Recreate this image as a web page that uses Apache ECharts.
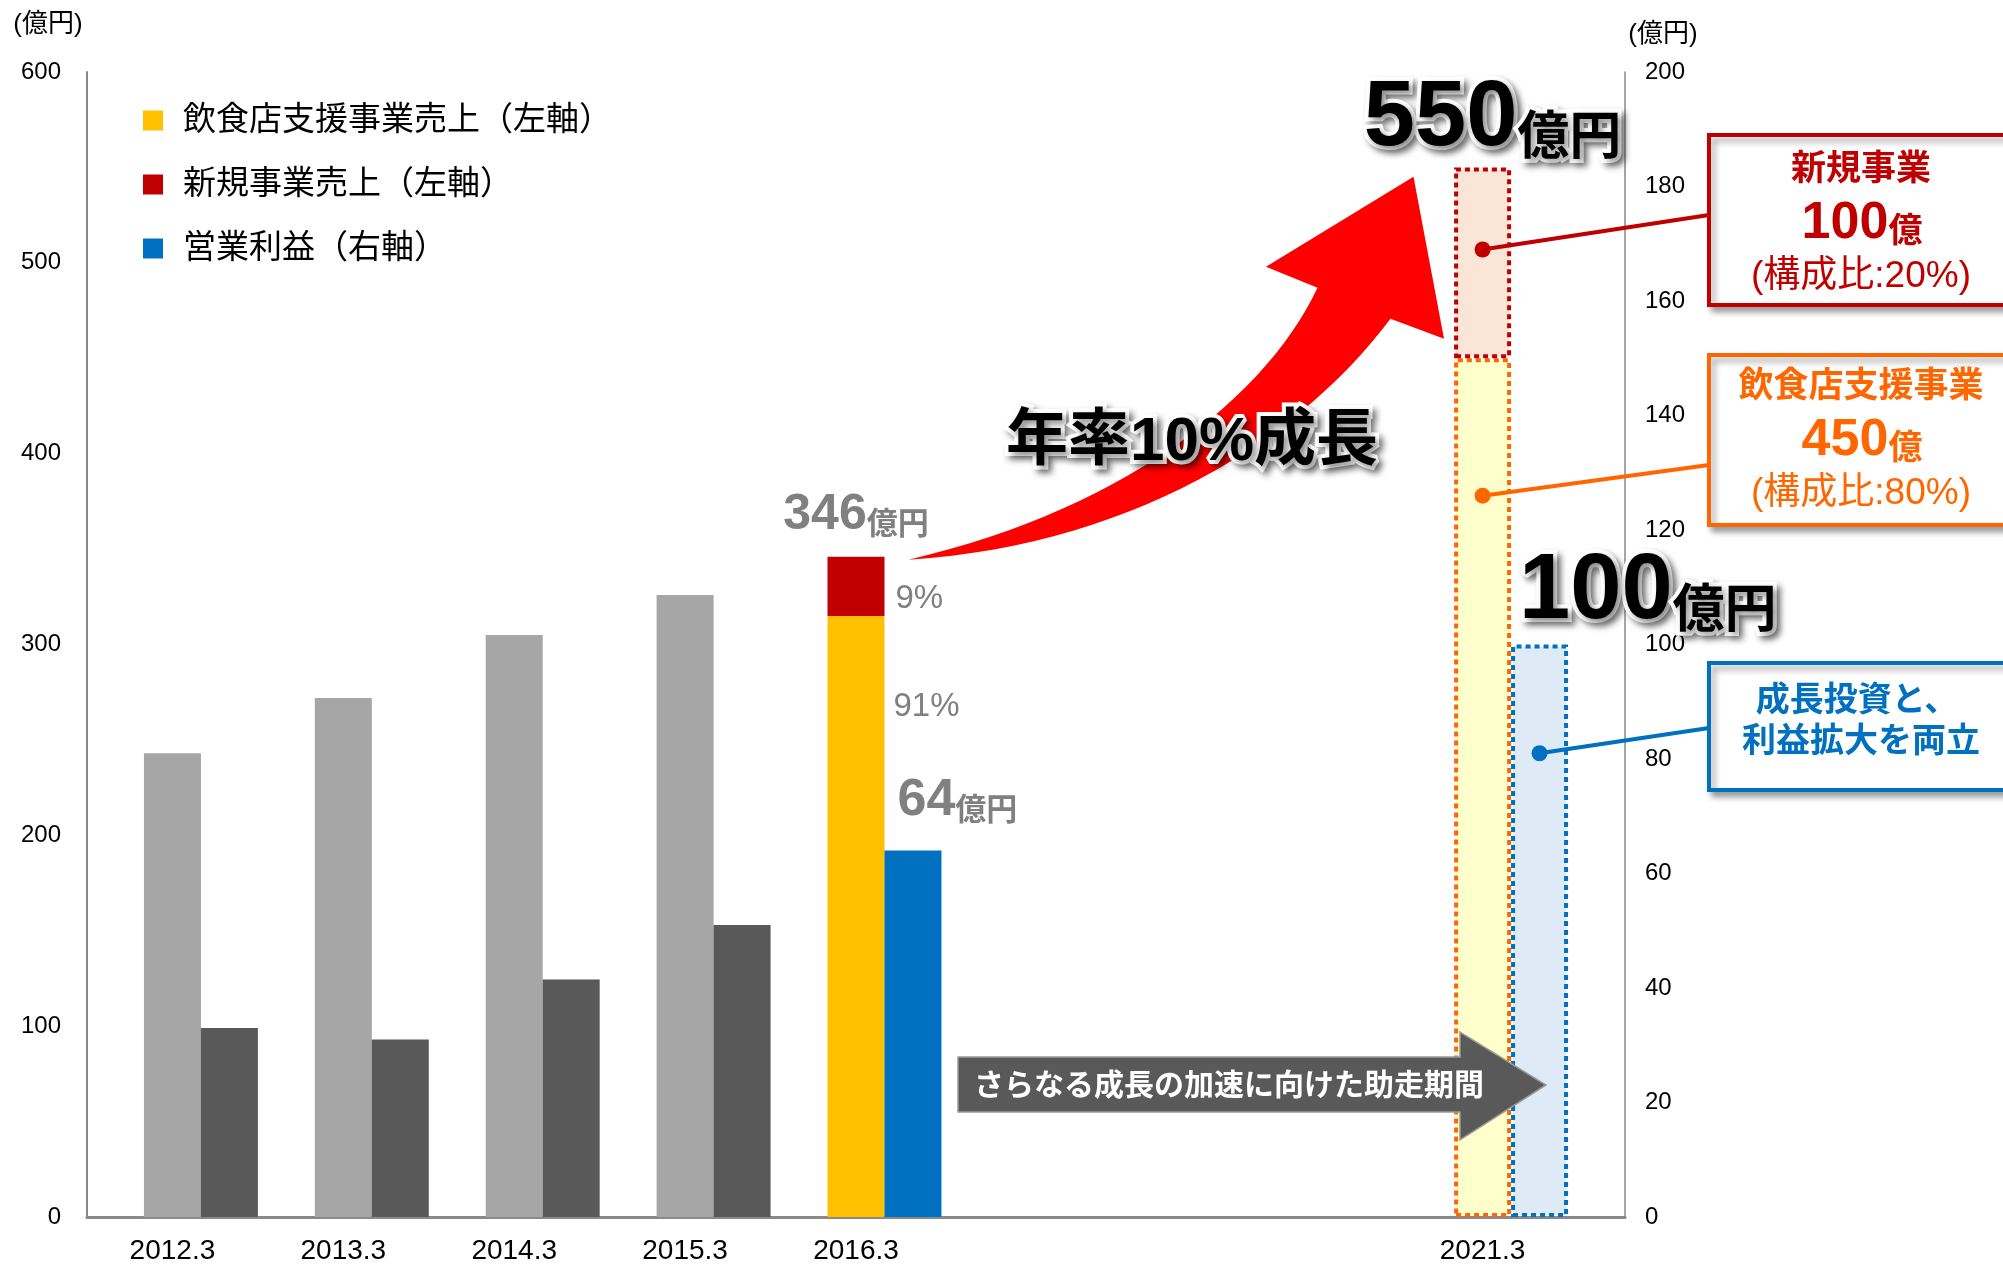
<!DOCTYPE html>
<html><head><meta charset="utf-8">
<script src="https://cdn.jsdelivr.net/npm/echarts@6/dist/echarts.min.js"></script>
<style>html,body{margin:0;padding:0;background:#fff}#c{width:2003px;height:1266px}</style>
</head><body><div id="c"></div>
<script>
// ---------------- data ----------------
const categories = ['2012.3', '2013.3', '2014.3', '2015.3', '2016.3', '2021.3'];
const salesCore = [243, 272, 305, 326, 315];   // 飲食店支援事業売上 (left axis)
const salesNew = [0, 0, 0, 0, 31];             // 新規事業売上 (left axis)
const profit = [33, 31, 41.5, 51, 64];          // 営業利益 (right axis)
const planCore = 450;                           // 2021.3 plan
const planNew = 100;
const planProfit = 100;
const planShare = { core: 80, new: 20 };        // 構成比 as stated in the callouts
const seriesNames = ['飲食店支援事業売上（左軸）', '新規事業売上（左軸）', '営業利益（右軸）'];
const leftAxis = { min: 0, max: 600, interval: 100 };
const rightAxis = { min: 0, max: 200, interval: 20 };
const unitName = '(億円)';

// ---------------- layout ----------------
const W = 2003, H = 1266;
const GRID = { left: 87, right: 378, top: 72, bottom: 49 };
const N_SLOTS = 27;                       // narrow slots along the x axis, one bar wide each
const slotIdx = [1, 4, 7, 10, 13, 24];    // slot of each category's first bar
const BAR_W = 57;
const FONT = "'Liberation Sans','Noto Sans CJK JP',sans-serif";
const C = { gray: '#A6A6A6', dgray: '#595959', yellow: '#FFC000', red: '#C00000', blue: '#0070C0',
  orange: '#FF6600', label: '#808080' };

const slotNames = Array.from({ length: N_SLOTS }, (_, i) => 's' + i);
const slotLabel = Array(N_SLOTS).fill('');
slotIdx.forEach((s, i) => { slotLabel[s] = categories[i]; });
function place(items, offset) {
  const arr = Array(N_SLOTS).fill('-');
  items.forEach((it, i) => { if (it !== null) arr[slotIdx[i] + (offset || 0)] = it; });
  return arr;
}

const total2016 = salesCore[4] + salesNew[4];
const pctCore = Math.round(salesCore[4] / total2016 * 100);
const pctNew = Math.round(salesNew[4] / total2016 * 100);
const planTotal = planCore + planNew;

const bigText = (size, lh) => ({ fontSize: size, fontWeight: 'bold', color: '#000', fontFamily: FONT,
  textBorderColor: '#fff', textBorderWidth: 8, textShadowColor: 'rgba(0,0,0,0.45)',
  textShadowBlur: 6, textShadowOffsetX: 4, textShadowOffsetY: 4, lineHeight: lh || size, verticalAlign: 'bottom' });
const grayRich = (n, u) => ({
  n: { fontSize: n, fontWeight: 'bold', color: C.label, lineHeight: n, verticalAlign: 'bottom', fontFamily: FONT },
  u: { fontSize: u, fontWeight: 'bold', color: C.label, lineHeight: Math.round(n * 0.83), verticalAlign: 'bottom', fontFamily: FONT }
});
const dashed = { borderWidth: 4, borderType: [5, 4] };

const option = {
  animation: false,
  backgroundColor: '#fff',
  textStyle: { fontFamily: FONT },
  legend: {
    orient: 'vertical', left: 143, top: 104, padding: 0, itemWidth: 20, itemHeight: 20, itemGap: 31,
    icon: 'rect', selectedMode: false, data: seriesNames,
    textStyle: { fontSize: 33, color: '#000', padding: [0, 0, 0, 15], fontFamily: FONT }
  },
  grid: { left: GRID.left, right: GRID.right, top: GRID.top, bottom: GRID.bottom, containLabel: false },
  xAxis: {
    type: 'category', data: slotNames, boundaryGap: true,
    axisTick: { show: false },
    axisLine: { show: true, lineStyle: { color: '#898989', width: 3 } },
    axisLabel: { interval: 0, fontSize: 28, margin: 20, color: '#000', formatter: (v, i) => slotLabel[i] }
  },
  yAxis: [
    {
      type: 'value', position: 'left', min: leftAxis.min, max: leftAxis.max, interval: leftAxis.interval,
      splitLine: { show: false }, axisTick: { show: false },
      axisLine: { show: true, lineStyle: { color: '#898989', width: 2 } },
      axisLabel: { fontSize: 24, margin: 26, color: '#000' },
      name: unitName, nameLocation: 'end', nameGap: 34,
      nameTextStyle: { fontSize: 26, color: '#000', align: 'center', padding: [0, 78, 0, 0] }
    },
    {
      type: 'value', position: 'right', min: rightAxis.min, max: rightAxis.max, interval: rightAxis.interval,
      splitLine: { show: false }, axisTick: { show: false },
      axisLine: { show: true, lineStyle: { color: '#898989', width: 1.5 } },
      axisLabel: { fontSize: 24, margin: 20, color: '#000' },
      name: unitName, nameLocation: 'end', nameGap: 24,
      nameTextStyle: { fontSize: 26, color: '#000', align: 'center', padding: [0, 0, 0, 76] }
    }
  ],
  series: [
    {
      name: seriesNames[0], type: 'bar', stack: 'sales', yAxisIndex: 0, barWidth: BAR_W, barGap: '-100%',
      itemStyle: { color: C.yellow },
      data: place(salesCore.map((v, i) => ({
        value: v,
        itemStyle: { color: i < 4 ? C.gray : C.yellow },
        label: i === 4 ? { show: true, position: ['100%', 91], offset: [9, 0], align: 'left', verticalAlign: 'middle',
          formatter: pctCore + '%', fontSize: 33, color: C.label } : { show: false }
      })))
    },
    {
      name: seriesNames[1], type: 'bar', stack: 'sales', yAxisIndex: 0, barWidth: BAR_W, barGap: '-100%',
      itemStyle: { color: C.red },
      data: place(salesNew.map((v, i) => i === 4 ? ({
        value: v,
        label: { show: true, position: ['100%', '50%'], offset: [11, 13], align: 'left', verticalAlign: 'middle',
          formatter: pctNew + '%', fontSize: 33, color: C.label }
      }) : null))
    },
    {
      name: 'total', type: 'bar', stack: 'sales', yAxisIndex: 0, barWidth: BAR_W, barGap: '-100%',
      itemStyle: { color: 'rgba(0,0,0,0)' },
      data: place(salesNew.map((v, i) => i === 4 ? ({
        value: 0,
        label: { show: true, position: 'top', distance: 16,
          formatter: '{n|' + total2016 + '}{u|億円}', rich: grayRich(50, 31) }
      }) : null))
    },
    {
      name: seriesNames[2], type: 'bar', yAxisIndex: 1, barWidth: BAR_W, barGap: '-100%',
      itemStyle: { color: C.blue },
      data: place(profit.map((v, i) => ({
        value: v,
        itemStyle: { color: i < 4 ? C.dgray : C.blue },
        label: i === 4 ? { show: true, position: [13, -24], align: 'left', verticalAlign: 'bottom',
          formatter: '{n|' + v + '}{u|億円}', rich: grayRich(52, 31) } : { show: false }
      })), 1)
    },
    {
      name: 'planCore', type: 'bar', stack: 'plan', yAxisIndex: 0, barWidth: BAR_W, barGap: '-100%',
      itemStyle: Object.assign({ color: '#FFFFCC', borderColor: C.orange }, dashed),
      data: place([null, null, null, null, null, planCore])
    },
    {
      name: 'planNew', type: 'bar', stack: 'plan', yAxisIndex: 0, barWidth: BAR_W, barGap: '-100%',
      itemStyle: Object.assign({ color: '#FBE5D6', borderColor: C.red }, dashed),
      label: { show: true, position: 'top', distance: 2, offset: [10, 0],
        formatter: () => '{n|' + planTotal + '}{u|億円}',
        rich: { n: bigText(92), u: bigText(52, 78) } },
      data: place([null, null, null, null, null, planNew])
    },
    {
      name: 'planProfit', type: 'bar', yAxisIndex: 1, barWidth: BAR_W, barGap: '-100%',
      itemStyle: Object.assign({ color: '#DEEBF7', borderColor: C.blue }, dashed),
      label: { show: true, position: [8, -6], align: 'left', verticalAlign: 'bottom',
        formatter: (p) => '{n|' + p.value + '}{u|億円}',
        rich: { n: bigText(92), u: bigText(52, 78) } },
      data: place([null, null, null, null, null, planProfit], 1)
    }
  ]
};

const chart = echarts.init(document.getElementById('c'), null, { renderer: 'canvas', width: W, height: H });
chart.setOption(option);

// ---------------- annotations ----------------
const P = (x, y, ax) => chart.convertToPixel({ xAxisIndex: 0, yAxisIndex: ax || 0 }, [x, y]);
const tailA = P(slotIdx[4], total2016, 0);
const T = [tailA[0] + BAR_W / 2 + 24, tailA[1] + 3];
const R = (dx, dy) => [T[0] + dx, T[1] + dy];
function cubic(p0, p1, p2, p3, n) {
  const pts = [];
  for (let k = 0; k <= n; k++) {
    const t = k / n, u = 1 - t;
    pts.push([u * u * u * p0[0] + 3 * u * u * t * p1[0] + 3 * u * t * t * p2[0] + t * t * t * p3[0],
              u * u * u * p0[1] + 3 * u * u * t * p1[1] + 3 * u * t * t * p2[1] + t * t * t * p3[1]]);
  }
  return pts;
}
const arrowPts = [].concat(
  cubic(R(0, 0), R(221, -14), R(391, -119), R(482, -241), 30),
  [R(535.5, -221), R(505, -383), R(357.5, -293)],
  cubic(R(409, -272), R(356, -159), R(211, -49), R(0, 0), 30)
);

const boxX = 1709, boxW = 312, tx = 1861;
function box(y, h, color) {
  return { type: 'rect', z: 20, shape: { x: boxX, y: y, width: boxW, height: h },
    style: { fill: '#fff', stroke: color, lineWidth: 4, shadowBlur: 6, shadowOffsetX: 4, shadowOffsetY: 5, shadowColor: 'rgba(0,0,0,0.35)' } };
}
function txt(x, y, text, size, color, bold) {
  return { type: 'text', z: 22, x: x, y: y,
    style: { text: text, fill: color, font: (bold ? 'bold ' : '') + size + 'px ' + FONT, align: 'center', verticalAlign: 'middle' } };
}
function richLine(x, y, num, unit, color) {
  return { type: 'text', z: 22, x: x, y: y,
    style: { text: '{n|' + num + '}{u|' + unit + '}', align: 'center', verticalAlign: 'middle',
      rich: { n: { fontSize: 52, fontWeight: 'bold', fill: color, fontFamily: FONT, lineHeight: 54, verticalAlign: 'bottom' },
              u: { fontSize: 34, fontWeight: 'bold', fill: color, fontFamily: FONT, lineHeight: 46, verticalAlign: 'bottom' } } } };
}
function connector(p, q, color) {
  return [
    { type: 'line', z: 18, shape: { x1: p[0], y1: p[1], x2: q[0], y2: q[1] }, style: { stroke: color, lineWidth: 4 } },
    { type: 'circle', z: 19, shape: { cx: p[0], cy: p[1], r: 8 }, style: { fill: color } }
  ];
}
const dRed = P(slotIdx[5], 507, 0);
const dOrange = P(slotIdx[5], 378, 0);
const dBlue = P(slotIdx[5] + 1, 81, 1);

const graphics = [
  { type: 'polygon', z: 10, shape: { points: arrowPts }, style: { fill: '#FF0000' } },
  { type: 'text', z: 14, x: 1192, y: 443,
    style: { text: '年率10%成長', fill: '#000', font: 'bold 62px ' + FONT, align: 'center', verticalAlign: 'middle',
      stroke: '#fff', lineWidth: 8, textShadowColor: 'rgba(0,0,0,0.45)', textShadowBlur: 6, textShadowOffsetX: 4, textShadowOffsetY: 4 } },
  { type: 'polygon', z: 12, shape: { points: [[958, 1057], [1460, 1057], [1460, 1032], [1546, 1085], [1460, 1140], [1460, 1112], [958, 1112]] },
    style: { fill: C.dgray, stroke: '#9a9a9a', lineWidth: 1.5 } },
  { type: 'text', z: 13, x: 974, y: 1087, style: { text: 'さらなる成長の加速に向けた助走期間', fill: '#fff',
    font: 'bold 30px ' + FONT, align: 'left', verticalAlign: 'middle' } },
  ...connector(dRed, [boxX, 215], C.red),
  ...connector(dOrange, [boxX, 465], C.orange),
  ...connector(dBlue, [boxX, 728], C.blue),
  box(135, 170, C.red),
  txt(tx, 170, '新規事業', 35, C.red, true),
  richLine(tx + 1, 223, planNew, '億', C.red),
  txt(tx, 277, '(構成比:' + planShare.new + '%)', 37, C.red, false),
  box(355, 170, C.orange),
  txt(tx, 387, '飲食店支援事業', 35, C.orange, true),
  richLine(tx + 1, 440, planCore, '億', C.orange),
  txt(tx, 494, '(構成比:' + planShare.core + '%)', 37, C.orange, false),
  box(663, 127, C.blue),
  txt(tx - 4, 702, '成長投資と、', 34, C.blue, true),
  txt(tx, 743, '利益拡大を両立', 34, C.blue, true)
];
chart.setOption({ graphic: graphics });
</script>
</body></html>
